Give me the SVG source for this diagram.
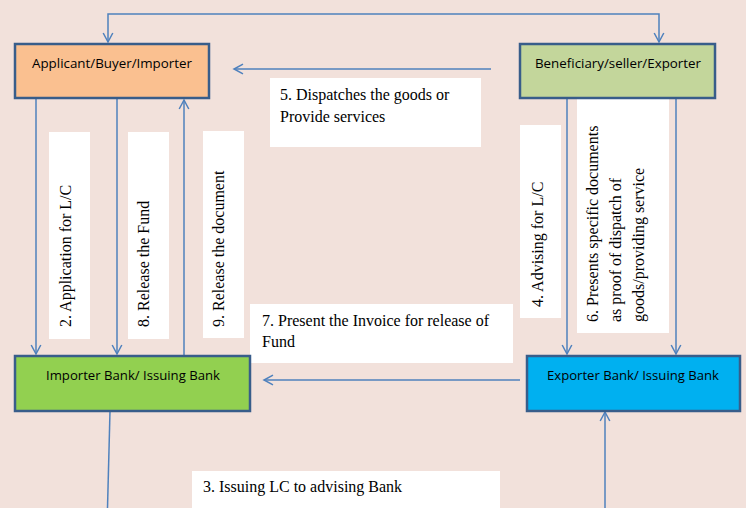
<svg xmlns="http://www.w3.org/2000/svg" width="746" height="508" viewBox="0 0 746 508">
<style>
.node rect{stroke:#385D8A;stroke-width:2.5}
.lbl{font-family:"Open Sans","Liberation Sans",sans-serif;font-size:13px;fill:#000}
.conn{stroke:#4F81BD;stroke-width:1.5;fill:none}
.tb{fill:#FFFFFF}
.t{font-family:"Liberation Serif","Times New Roman",serif;font-size:16px;fill:#000}
</style>
<defs>
<marker id="ah" markerUnits="userSpaceOnUse" markerWidth="14" markerHeight="14" viewBox="-11 -7 14 14" refX="0" refY="0" orient="auto-start-reverse">
<path d="M-9,-4.8 L0,0 L-9,4.8" fill="none" stroke="#4F81BD" stroke-width="1.5"/>
</marker>
</defs>
<rect x="0" y="0" width="746" height="508" fill="#F2E1DB"/>

<g id="labels">
<rect class="tb" x="270" y="78" width="211" height="69"/>
<text class="t" x="280" y="100">5. Dispatches the goods or</text>
<text class="t" x="280" y="122">Provide services</text>

<rect class="tb" x="49" y="132" width="41" height="207"/>
<text class="t" transform="translate(71,327) rotate(-90)">2. Application for L/C</text>
<rect class="tb" x="128" y="132" width="41" height="207"/>
<text class="t" transform="translate(149,327) rotate(-90)">8. Release the Fund</text>
<rect class="tb" x="203" y="131" width="41" height="207"/>
<text class="t" transform="translate(224,327) rotate(-90)">9. Release the document</text>

<rect class="tb" x="520" y="125" width="41" height="193"/>
<text class="t" transform="translate(543,307) rotate(-90)">4. Advising for L/C</text>
<rect class="tb" x="577" y="99" width="92" height="234"/>
<text class="t" transform="translate(598,322) rotate(-90)">6. Presents specific documents</text>
<text class="t" transform="translate(621,322) rotate(-90)">as proof of dispatch of</text>
<text class="t" transform="translate(644,322) rotate(-90)">goods/providing service</text>

<rect class="tb" x="250" y="304" width="263" height="59"/>
<text class="t" x="262" y="326">7. Present the Invoice for release of</text>
<text class="t" x="262" y="347">Fund</text>

<rect class="tb" x="192" y="471" width="308" height="37"/>
<text class="t" x="203" y="492">3. Issuing LC to advising Bank</text>
</g>

<g id="connectors">
<path class="conn" d="M108,42 L108,14 L659,14 L659,42" marker-start="url(#ah)" marker-end="url(#ah)"/>
<path class="conn" d="M491,69 L234,69" marker-end="url(#ah)"/>
<path class="conn" d="M36,99 L36,354" marker-end="url(#ah)"/>
<path class="conn" d="M117,99 L117,354" marker-end="url(#ah)"/>
<path class="conn" d="M184,356 L184,100" marker-end="url(#ah)"/>
<path class="conn" d="M567,99 L567,354" marker-end="url(#ah)"/>
<path class="conn" d="M676,99 L676,354" marker-end="url(#ah)"/>
<path class="conn" d="M520,380 L264,380" marker-end="url(#ah)"/>
<path class="conn" d="M110,411 L107.5,508"/>
<path class="conn" d="M605,508 L605,412" marker-end="url(#ah)"/>
</g>

<g id="applicant" class="node">
<rect x="15" y="44" width="194" height="54" fill="#FAC090"/>
<text class="lbl" x="112" y="67.5" text-anchor="middle" textLength="160" lengthAdjust="spacingAndGlyphs">Applicant/Buyer/Importer</text>
</g>
<g id="beneficiary" class="node">
<rect x="520" y="44" width="195" height="54" fill="#C3D69B"/>
<text class="lbl" x="618" y="67.5" text-anchor="middle" textLength="166" lengthAdjust="spacingAndGlyphs">Beneficiary/seller/Exporter</text>
</g>
<g id="importer-bank" class="node">
<rect x="15" y="356" width="235" height="55" fill="#92D050"/>
<text class="lbl" x="133" y="380" text-anchor="middle" textLength="174" lengthAdjust="spacingAndGlyphs">Importer Bank/ Issuing Bank</text>
</g>
<g id="exporter-bank" class="node">
<rect x="527" y="356" width="213" height="55" fill="#00B0F0"/>
<text class="lbl" x="633" y="380" text-anchor="middle" textLength="172" lengthAdjust="spacingAndGlyphs">Exporter Bank/ Issuing Bank</text>
</g>
</svg>
